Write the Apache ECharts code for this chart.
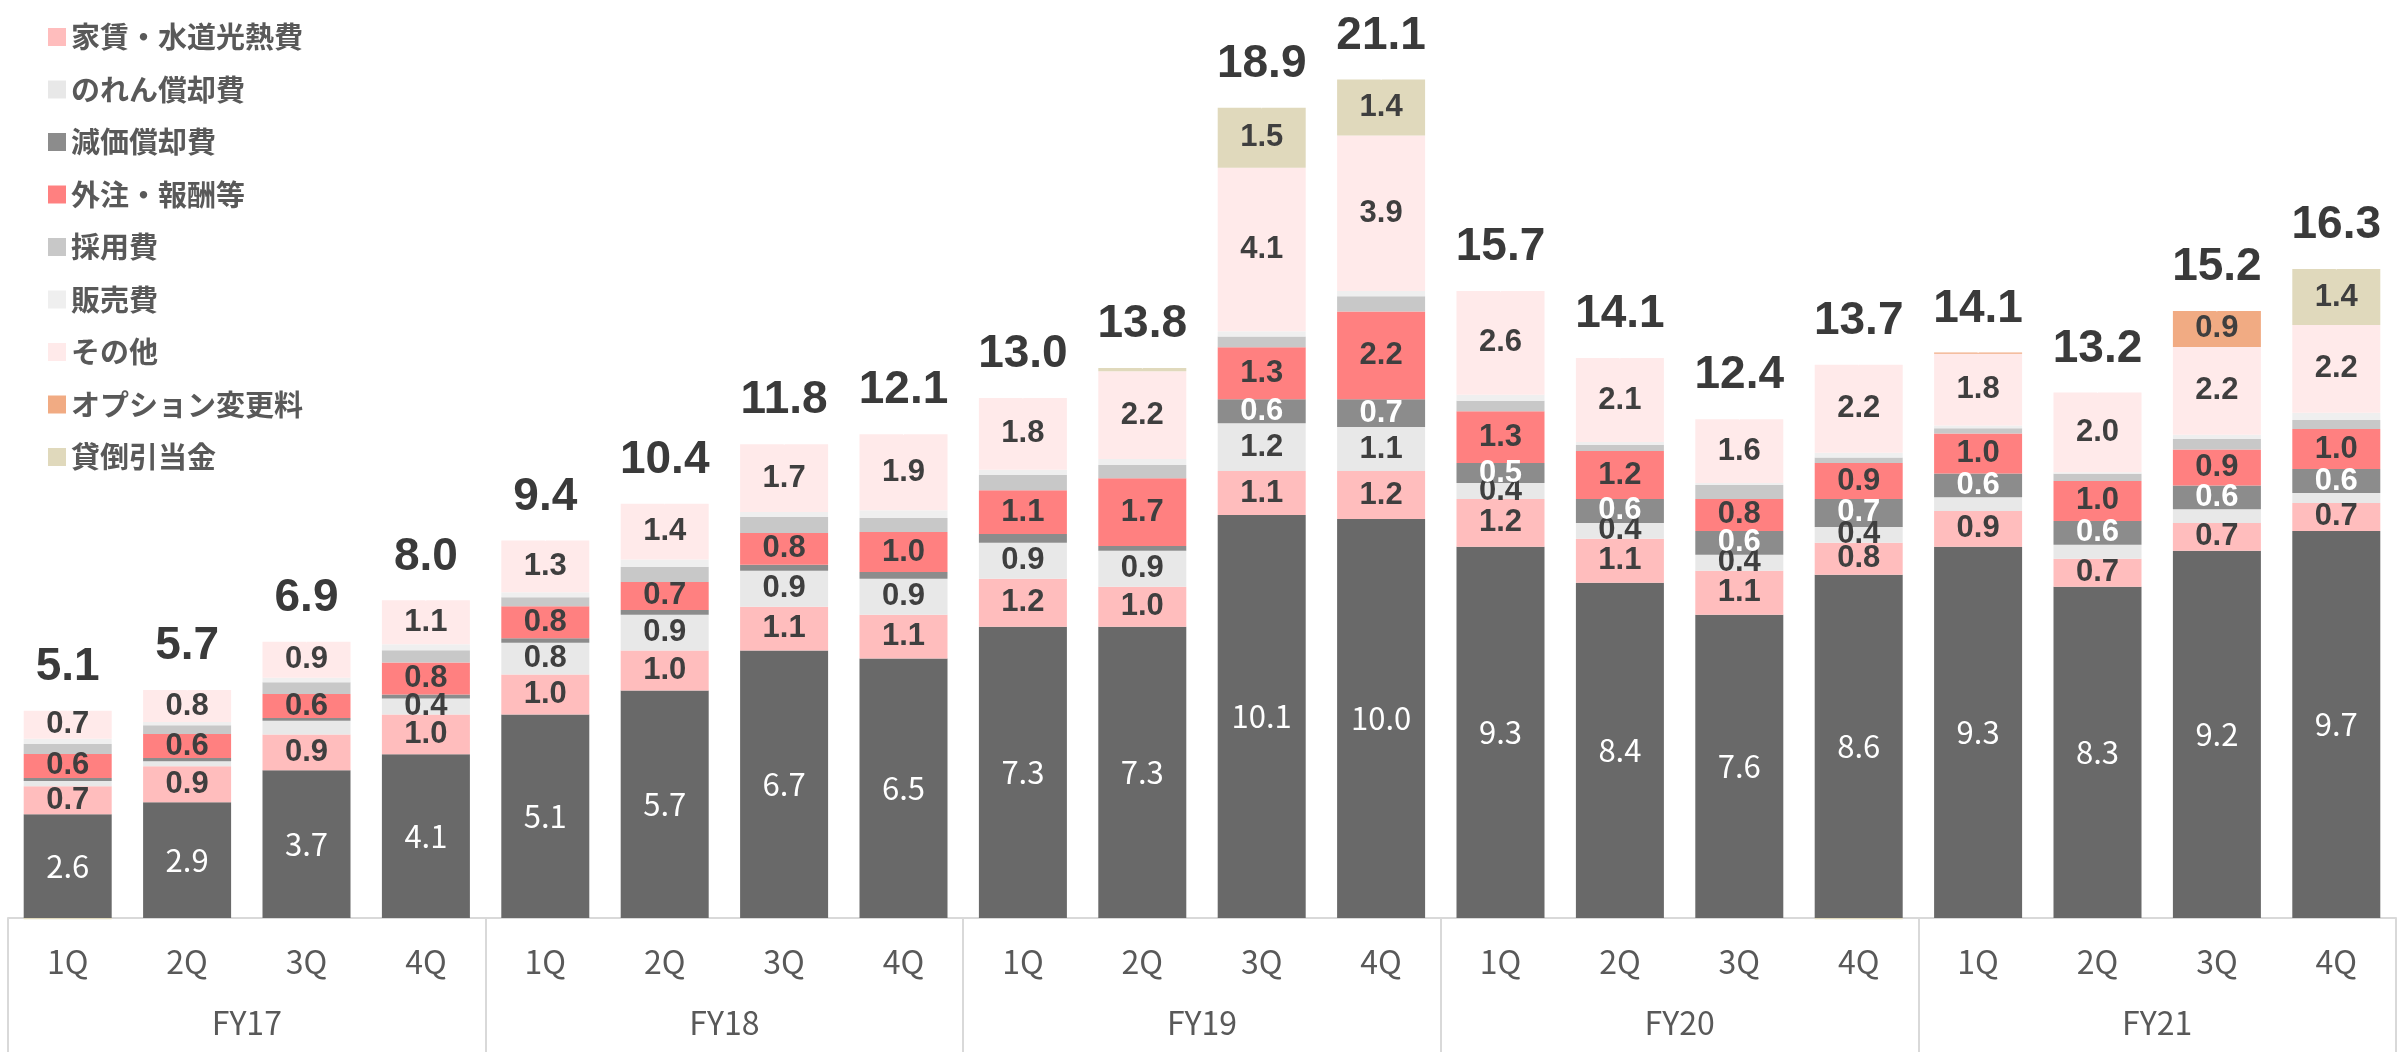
<!DOCTYPE html>
<html lang="ja">
<head>
  <meta charset="UTF-8">
  <title>費用内訳</title>
  <style>
    html, body { margin: 0; padding: 0; background: #fff; }
    #chart { width: 2407px; height: 1052px; }
  </style>
</head>
<body>
  <div id="chart"></div>
  <script src="https://cdn.jsdelivr.net/npm/echarts@6/dist/echarts.min.js"></script>
  <script>
    // 四半期と年度
    var quarters = ['1Q', '2Q', '3Q', '4Q', '1Q', '2Q', '3Q', '4Q', '1Q', '2Q', '3Q', '4Q',
      '1Q', '2Q', '3Q', '4Q', '1Q', '2Q', '3Q', '4Q'];
    var years = ['FY17', 'FY18', 'FY19', 'FY20', 'FY21'];

    // 各費目（下から積み上げ）
    var jinken = [2.6, 2.9, 3.7, 4.1, 5.1, 5.7, 6.7, 6.5, 7.3, 7.3, 10.1, 10.0, 9.3, 8.4, 7.6, 8.6, 9.3, 8.3, 9.2, 9.7];
    var yachin = [0.7, 0.9, 0.9, 1.0, 1.0, 1.0, 1.1, 1.1, 1.2, 1.0, 1.1, 1.2, 1.2, 1.1, 1.1, 0.8, 0.9, 0.7, 0.7, 0.7];
    var noren = [0.13, 0.13, 0.34, 0.4, 0.8, 0.9, 0.9, 0.9, 0.9, 0.9, 1.2, 1.1, 0.4, 0.4, 0.4, 0.4, 0.34, 0.35, 0.34, 0.25];
    var genka = [0.08, 0.08, 0.07, 0.1, 0.11, 0.12, 0.15, 0.17, 0.22, 0.12, 0.6, 0.7, 0.5, 0.6, 0.6, 0.7, 0.6, 0.6, 0.6, 0.6];
    var gaichu = [0.6, 0.6, 0.6, 0.8, 0.8, 0.7, 0.8, 1.0, 1.1, 1.7, 1.3, 2.2, 1.3, 1.2, 0.8, 0.9, 1.0, 1.0, 0.9, 1.0];
    var saiyo = [0.25, 0.22, 0.3, 0.31, 0.23, 0.38, 0.4, 0.35, 0.38, 0.33, 0.27, 0.38, 0.26, 0.16, 0.35, 0.14, 0.13, 0.18, 0.26, 0.23];
    var hanbai = [0.13, 0.08, 0.11, 0.15, 0.12, 0.18, 0.12, 0.2, 0.13, 0.15, 0.13, 0.13, 0.15, 0.07, 0.05, 0.12, 0.07, 0.04, 0.11, 0.18];
    var sonota = [0.7, 0.8, 0.9, 1.1, 1.3, 1.4, 1.7, 1.9, 1.8, 2.2, 4.1, 3.9, 2.6, 2.1, 1.6, 2.2, 1.8, 2.0, 2.2, 2.2];
    var option_ = [0, 0, 0, 0, 0, 0, 0, 0, 0, 0, 0, 0, 0, 0, 0, 0, 0.03, 0, 0.9, 0];
    var kashidaore = [-0.03, 0, 0, 0, 0, 0, 0, 0, 0, 0.08, 1.5, 1.4, 0, 0, 0, -0.03, 0, 0, 0, 1.4];

    // 合計ラベル
    var totals = ['5.1', '5.7', '6.9', '8.0', '9.4', '10.4', '11.8', '12.1', '13.0', '13.8', '18.9', '21.1',
      '15.7', '14.1', '12.4', '13.7', '14.1', '13.2', '15.2', '16.3'];

    var seriesDefs = [
      { name: '人件費', data: jinken, color: '#696969', label: 'base' },
      { name: '家賃・水道光熱費', data: yachin, color: '#ffbdbd', label: 'dark' },
      { name: 'のれん償却費', data: noren, color: '#e8e8e8', label: 'dark' },
      { name: '減価償却費', data: genka, color: '#8c8c8c', label: 'white' },
      { name: '外注・報酬等', data: gaichu, color: '#ff8080', label: 'dark' },
      { name: '採用費', data: saiyo, color: '#c8c8c8', label: 'none' },
      { name: '販売費', data: hanbai, color: '#efefef', label: 'none' },
      { name: 'その他', data: sonota, color: '#ffeaea', label: 'dark' },
      { name: 'オプション変更料', data: option_, color: '#f1ab83', label: 'dark' },
      { name: '貸倒引当金', data: kashidaore, color: '#e0d9bc', label: 'dark' }
    ];

    function segLabel(kind) {
      if (kind === 'none') return { show: false };
      var lb = {
        show: true,
        position: 'inside',
        formatter: function (p) { return p.value >= 0.37 ? p.value.toFixed(1) : ''; }
      };
      if (kind === 'base') {
        lb.color = '#ffffff';
        lb.fontFamily = 'Noto Sans CJK JP';
        lb.fontSize = 31;
      } else {
        lb.color = kind === 'white' ? '#ffffff' : '#3f3f3f';
        lb.fontFamily = 'Liberation Sans';
        lb.fontWeight = 'bold';
        lb.fontSize = 31;
      }
      return lb;
    }

    var series = seriesDefs.map(function (s) {
      return {
        name: s.name,
        type: 'bar',
        stack: 'cost',
        barWidth: 88,
        clip: false,
        itemStyle: { color: s.color },
        label: segLabel(s.label),
        data: s.data
      };
    });

    // 積み上げの上端（正の値の合計）に合計ラベルを置く
    var stackTop = jinken.map(function (v, i) {
      var sum = 0;
      seriesDefs.forEach(function (s) { if (s.data[i] > 0) sum += s.data[i]; });
      return sum;
    });
    series.push({
      name: '合計',
      type: 'scatter',
      symbolSize: 1,
      itemStyle: { color: '#ffffff', opacity: 1 },
      label: {
        show: true,
        position: 'top',
        distance: 20,
        color: '#3a3a3a',
        opacity: 1,
        fontFamily: 'Liberation Sans',
        fontWeight: 'bold',
        fontSize: 46,
        formatter: function (p) { return totals[p.dataIndex]; }
      },
      data: stackTop
    });

    var chart = echarts.init(document.getElementById('chart'));
    chart.setOption({
      animation: false,
      grid: { left: 8, right: 11, top: 40, bottom: 134 },
      legend: {
        data: seriesDefs.slice(1).map(function (s) { return s.name; }),
        orient: 'vertical',
        left: 43,
        top: 17,
        itemWidth: 18,
        itemHeight: 18,
        itemGap: 22.5,
        icon: 'rect',
        selectedMode: false,
        textStyle: {
          fontFamily: 'Noto Sans CJK JP',
          fontSize: 29,
          fontWeight: 'bold',
          lineHeight: 30,
          color: '#595959'
        }
      },
      xAxis: [{
        type: 'category',
        data: quarters,
        position: 'bottom',
        axisLine: { show: true, lineStyle: { color: '#d9d9d9', width: 2 } },
        axisTick: { show: false },
        axisLabel: {
          interval: 0,
          margin: 28,
          fontFamily: 'Noto Sans CJK JP',
          fontSize: 32,
          color: '#595959'
        }
      }, {
        type: 'category',
        data: years,
        position: 'bottom',
        axisLine: { show: false },
        axisTick: { show: true, length: 134, lineStyle: { color: '#d9d9d9', width: 2 } },
        axisLabel: {
          interval: 0,
          margin: 89,
          fontFamily: 'Noto Sans CJK JP',
          fontSize: 32,
          color: '#595959'
        }
      }],
      yAxis: {
        type: 'value',
        min: 0,
        max: 22,
        show: false,
        splitLine: { show: false }
      },
      series: series
    });
  </script>
</body>
</html>
